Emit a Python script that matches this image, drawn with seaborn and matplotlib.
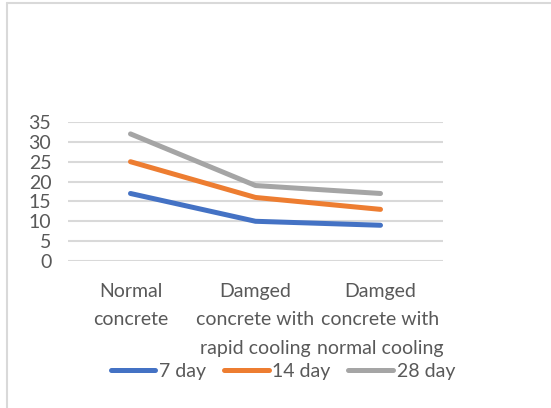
import numpy as np
import pandas as pd
import matplotlib.pyplot as plt
import seaborn as sns
from matplotlib.lines import Line2D

categories = ["Normal\nconcrete", "Damged\nconcrete with\nrapid cooling", "Damged\nconcrete with\nnormal cooling"]
day7 = [17, 10, 9]
day14 = [25, 16, 13]
day28 = [32, 19, 17]
series = ["7 day", "14 day", "28 day"]
colors = ["#4472C4", "#ED7D31", "#A5A5A5"]

rows = []
for name, vals in zip(series, [day7, day14, day28]):
    for i, v in enumerate(vals):
        rows.append({"pos": i, "value": v, "series": name})
df = pd.DataFrame(rows)

sns.set_style("white")
plt.rcParams["font.family"] = ["Lato", "DejaVu Sans"]

fig = plt.figure(figsize=(5.51, 4.08), dpi=100)
ax = fig.add_axes([68 / 551, 1 - 261 / 408, 375 / 551, 139 / 408])

sns.lineplot(data=df, x="pos", y="value", hue="series", palette=colors,
             linewidth=3.6, ax=ax, legend=False, solid_capstyle="round", zorder=3)

ax.set_xlim(-0.5, 2.5)
ax.set_ylim(0, 35)
ax.set_yticks(np.arange(0, 36, 5))
ax.set_xticks(range(3))
ax.set_xticklabels(categories, linespacing=1.8)
ax.tick_params(axis="both", colors="#595959", labelsize=14, length=0)
ax.tick_params(axis="x", pad=16)
ax.tick_params(axis="y", pad=12)
ax.yaxis.grid(True, color="#d9d9d9", linewidth=1.5)
ax.xaxis.grid(False)
for s in ax.spines.values():
    s.set_visible(False)
ax.set_xlabel("")
ax.set_ylabel("")

handles = [Line2D([0], [0], color=c, linewidth=3.6, solid_capstyle="round") for c in colors]
fig.legend(handles, series, loc="center", bbox_to_anchor=(283 / 551, 1 - 371 / 408),
           ncol=3, frameon=False, fontsize=14, handlelength=2.3, handletextpad=0.2,
           columnspacing=0.9, labelcolor="#595959")

# chart border (left and top visible)
fig.add_artist(Line2D([7 / 551, 7 / 551], [0, 1 - 3 / 408], color="#d9d9d9", linewidth=1.5))
fig.add_artist(Line2D([7 / 551, 1], [1 - 3 / 408, 1 - 3 / 408], color="#d9d9d9", linewidth=1.5))

fig.savefig("out.png", dpi=100)
